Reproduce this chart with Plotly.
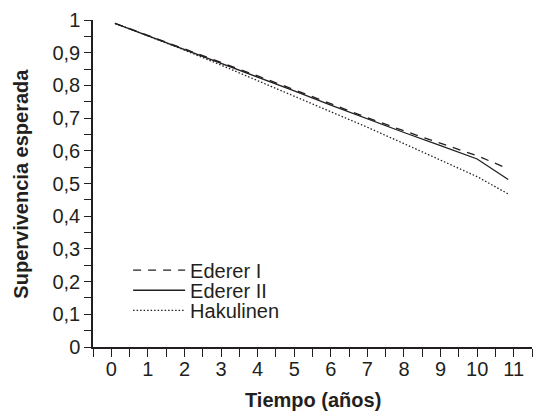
import plotly.graph_objects as go

# Data
tiempo = [0.1, 1, 2, 3, 4, 5, 6, 7, 8, 9, 10, 10.85]
ederer_1 = [0.99, 0.953, 0.913, 0.871, 0.829, 0.787, 0.744, 0.701, 0.661, 0.622, 0.585, 0.545]
ederer_2 = [0.99, 0.952, 0.912, 0.868, 0.826, 0.783, 0.740, 0.697, 0.656, 0.616, 0.575, 0.512]
hakulinen = [0.99, 0.951, 0.908, 0.862, 0.815, 0.768, 0.721, 0.672, 0.622, 0.572, 0.521, 0.468]

x_ticks = list(range(0, 12))
y_ticks = [round(0.1 * i, 1) for i in range(0, 11)]

ink = "#231f20"
font_family = "Liberation Sans, Arial, sans-serif"
FS = 20

fig = go.Figure()
fig.add_trace(go.Scatter(x=tiempo, y=ederer_1, mode="lines", name="Ederer I", legend="legend",
                         line=dict(color=ink, width=1.3, dash="8px,7px")))
fig.add_trace(go.Scatter(x=tiempo, y=ederer_2, mode="lines", name="Ederer II", legend="legend2",
                         line=dict(color=ink, width=1.3)))
fig.add_trace(go.Scatter(x=tiempo, y=hakulinen, mode="lines", name="Hakulinen", legend="legend3",
                         line=dict(color=ink, width=1.3, dash="1.5px,2px")))

leg_common = dict(x=0.08, xanchor="left", yanchor="middle", bgcolor="rgba(0,0,0,0)",
                  itemwidth=52, font=dict(size=FS), borderwidth=0)

fig.update_layout(
    width=533, height=412,
    margin=dict(l=93, r=1, t=20, b=65, autoexpand=False),
    paper_bgcolor="white", plot_bgcolor="white",
    separators=",.",
    font=dict(family=font_family, size=FS, color=ink),
    showlegend=True,
    legend=dict(y=0.235, **leg_common),
    legend2=dict(y=0.1735, **leg_common),
    legend3=dict(y=0.112, **leg_common),
    annotations=[
        dict(text="<b>Tiempo (años)</b>", xref="paper", yref="paper", x=0.5, y=-0.163,
             xanchor="center", yanchor="middle", showarrow=False, font=dict(size=FS)),
        dict(text="<b>Supervivencia esperada</b>", xref="paper", yref="paper", x=-0.166, y=0.5,
             xanchor="center", yanchor="middle", textangle=-90, showarrow=False, font=dict(size=FS)),
    ],
)
fig.update_xaxes(
    range=[-0.5, 11.5], tickvals=x_ticks, ticks="outside", ticklen=8,
    tickwidth=1.3, tickcolor=ink, automargin=False, ticklabelstandoff=-5,
    minor=dict(tick0=-0.5, dtick=0.5, ticks="outside", ticklen=8, tickwidth=1.3, tickcolor=ink),
    showline=True, linecolor=ink, linewidth=1.5, showgrid=False, zeroline=False,
    tickfont=dict(size=FS),
)
fig.update_yaxes(
    range=[0, 1], tickvals=y_ticks, ticks="outside", ticklen=7,
    tickwidth=1.3, tickcolor=ink, automargin=False,
    minor=dict(tick0=0, dtick=0.05, ticks="outside", ticklen=7, tickwidth=1.3, tickcolor=ink),
    showline=True, linecolor=ink, linewidth=1.5, showgrid=False, zeroline=False,
    tickfont=dict(size=FS),
)

fig.write_html(
    "out.html",
    config={"displayModeBar": False},
    post_script="document.body.style.margin='0';document.body.style.overflow='hidden';",
)
